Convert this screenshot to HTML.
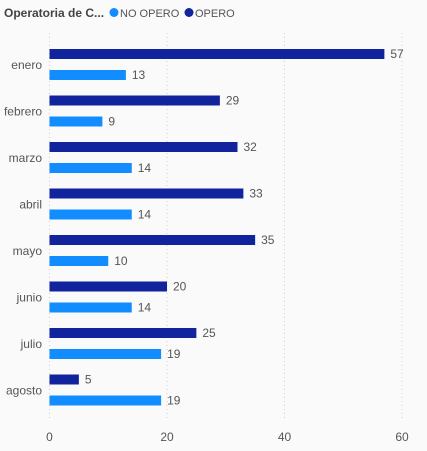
<!DOCTYPE html>
<html><head><meta charset="utf-8"><style>
body{margin:0;background:#fafafa;width:427px;height:451px;overflow:hidden;font-family:"Liberation Sans",sans-serif}
</style></head><body>
<svg width="427" height="451" style="position:absolute;left:0;top:0">
<rect width="427" height="451" fill="#fafafa"/>
<g font-size="11">
<text x="4" y="17" font-size="12" font-weight="bold" fill="#444">Operatoria de C...</text>
<circle cx="114" cy="12.5" r="4.5" fill="#118dff"/>
<text x="120" y="17" fill="#555">NO OPERO</text>
<circle cx="189" cy="12.5" r="4.5" fill="#12239e"/>
<text x="195" y="17" fill="#555">OPERO</text>
</g>
<g id="grid"></g><g id="bars"></g><g id="axis"></g>
</svg>
<script>
const categories=["enero","febrero","marzo","abril","mayo","junio","julio","agosto"];
const opero=[57,29,32,33,35,20,25,5];
const noOpero=[13,9,14,14,10,14,19,19];
const ticks=[0,20,40,60];
const NS="http://www.w3.org/2000/svg";
const x=v=>49.5+v*5.875;
const rowY=i=>49+i*46.5;
function mk(tag,attrs,parent){const e=document.createElementNS(NS,tag);for(const k in attrs)e.setAttribute(k,attrs[k]);parent.appendChild(e);return e;}
const grid=document.getElementById('grid'),bars=document.getElementById('bars'),axis=document.getElementById('axis');
ticks.forEach(t=>{
 const l=mk('line',{x1:x(t),x2:x(t),y1:33,y2:420,stroke:'#ccc','stroke-dasharray':'1,3'},grid);
 
 
 const tx=mk('text',{x:x(t),y:441,'text-anchor':'middle','font-size':'12',fill:'#555'},axis);
 tx.textContent=t;
 
 
});
categories.forEach((c,i)=>{
 const y=rowY(i);
 const lb=mk('text',{x:42,y:y+20,'text-anchor':'end','font-size':'12',fill:'#555'},axis);
 lb.textContent=c;
 
 
 const b1=mk('rect',{x:x(0),y:y,width:x(opero[i])-x(0),height:10,fill:'#12239e'},bars);
 
 
 const t1=mk('text',{x:x(opero[i])+6,y:y+9,'font-size':'12',fill:'#555'},bars);
 t1.textContent=opero[i];
 
 
 const b2=mk('rect',{x:x(0),y:y+21,width:x(noOpero[i])-x(0),height:10,fill:'#118dff'},bars);
 
 
 const t2=mk('text',{x:x(noOpero[i])+6,y:y+30,'font-size':'12',fill:'#555'},bars);
 t2.textContent=noOpero[i];
 
 
});
</script>
</body></html>
